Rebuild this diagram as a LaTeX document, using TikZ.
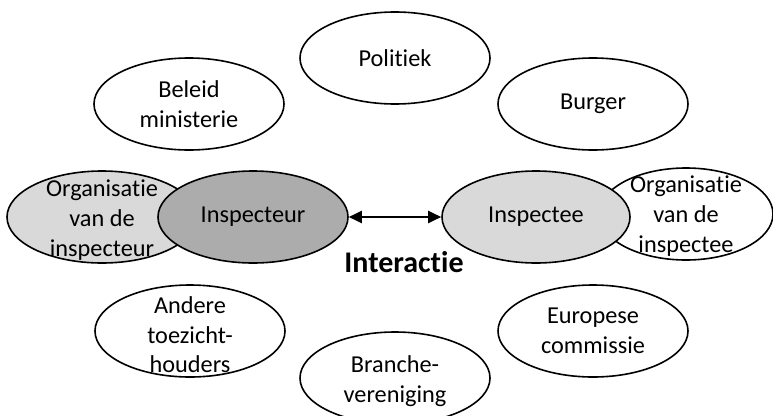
\documentclass[tikz,border=0pt]{standalone}
\usepackage{fontspec}
\setmainfont{Carlito}[RawFeature={-liga}]
\usetikzlibrary{shapes.geometric,arrows.meta}

\tikzset{
  actor/.style={ellipse, draw=black, line width=1.6pt, fill=white,
    minimum width=190pt, minimum height=92pt, inner sep=0pt},
  txt/.style={align=center, font=\fontsize{24.3}{29.6}\selectfont},
  darkfill/.style={fill=gray!65},
  lightfill/.style={fill=gray!30},
  link/.style={line width=2pt, {Triangle[length=13pt,width=12pt]}-{Triangle[length=13pt,width=12pt]}}
}

\begin{document}
\begin{tikzpicture}[x=1pt,y=-1pt]
  \useasboundingbox (0,0) rectangle (773,415);
  \clip (0,0) rectangle (773,415);

  % outer ring of stakeholders
  \node[actor, label={[txt]center:Politiek}] (politiek) at (395,58) {};
  \node[actor, label={[txt]center:Beleid\\ministerie}] (beleid) at (189,104) {};
  \node[actor, label={[txt]center:Burger}] (burger) at (593,104) {};
  \node[actor, label={[txt,yshift=-4pt]center:Andere\\toezicht-\\houders}] (andere) at (190,331) {};
  \node[actor, label={[txt,yshift=-3pt]center:Branche-\\vereniging}] (branche) at (395,378) {};
  \node[actor, label={[txt]center:Europese\\commissie}] (europa) at (593,331) {};

  % organisations behind both parties
  \node[actor, lightfill, label={[txt,yshift=-3pt]center:Organisatie\\van de\\inspecteur}] (orgl) at (102,217) {};
  \node[actor, minimum width=174pt, label={[txt,yshift=-2pt]center:Organisatie\\van de\\inspectee}] (orgr) at (686,214) {};

  % the two parties
  \node[actor, darkfill, label={[txt]center:Inspecteur}] (inspecteur) at (253,217) {};
  \node[actor, lightfill, minimum width=188pt, label={[txt]center:Inspectee}] (inspectee) at (536,217) {};

  \draw[link] (inspecteur.east) -- (inspectee.west);
  \node[font=\fontsize{30}{35}\selectfont\bfseries] (interactie) at (404,262) {Interactie};
\end{tikzpicture}
\end{document}
